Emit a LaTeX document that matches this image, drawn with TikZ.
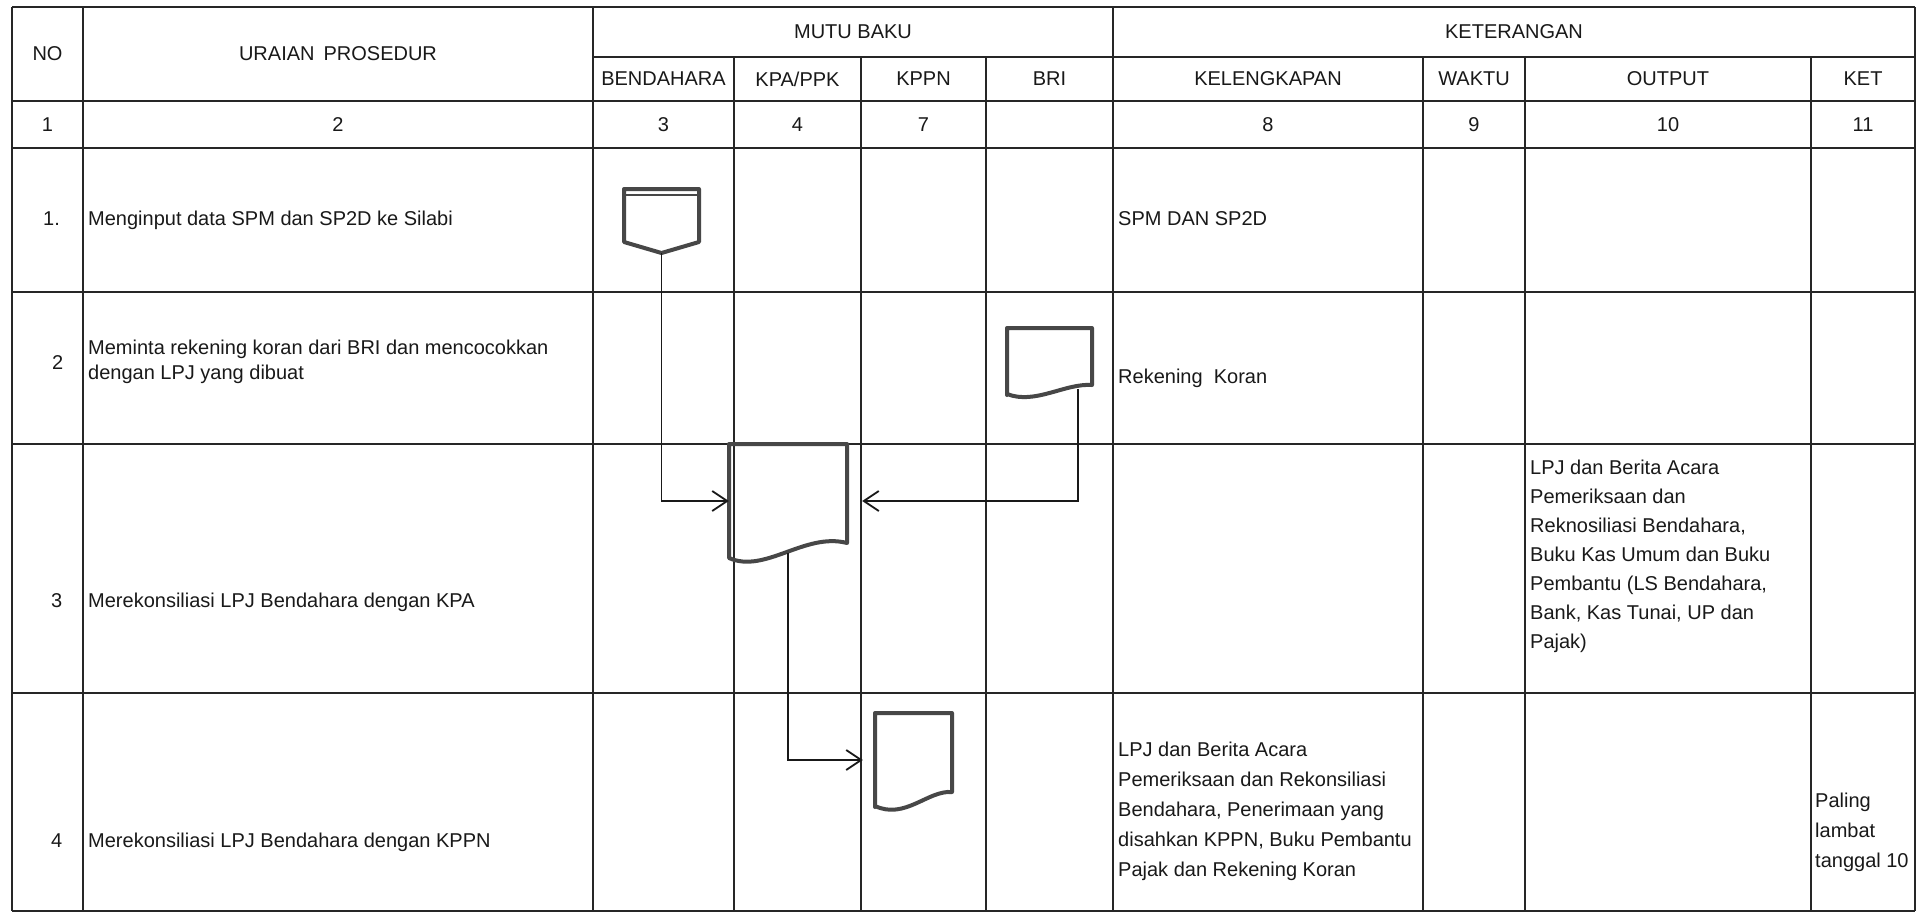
\documentclass[tikz,border=0pt]{standalone}
\usepackage{fontspec}
\setmainfont{Liberation Sans}
\usetikzlibrary{arrows.meta,calc}
\tikzset{
  gridline/.style={line width=2.2pt, draw=black!85},
  hdr/.style={font=\fontsize{20}{24}\selectfont, inner sep=0pt, text=black!90},
  cell/.style={font=\fontsize{20}{30}\selectfont, inner sep=0pt, anchor=base west, align=left, text=black!90},
  symbox/.style={inner sep=0pt, draw=none},
  docline/.style={line width=4pt, draw=black!72, line join=round},
  conn/.style={line width=1.8pt, draw=black!90},
  arr/.style={conn, -{Straight Barb[length=15pt,width=20pt,line width=1.8pt]}},
}
\begin{document}
\begin{tikzpicture}[x=1pt,y=-1pt]
\useasboundingbox (0,0) rectangle (1922,914);
\fill[white] (0,0) rectangle (1922,914);
% ---- grid ----
\foreach \y in {7,101,148,292,444,693,911} \draw[gridline] (12,\y) -- (1915,\y);
\draw[gridline] (593,57) -- (1915,57);
\foreach \x in {12,83,593,1113,1915} \draw[gridline] (\x,7) -- (\x,911);
\foreach \x in {734,861,986,1423,1525,1811} \draw[gridline] (\x,57) -- (\x,911);
% ---- header ----
\node[hdr] (hno) at (47.5,54) {NO};
\node[hdr] (hur) at (338,54) {URAIAN\hspace{0.45em}PROSEDUR};
\node[hdr] (hmb) at (853,32) {MUTU BAKU};
\node[hdr] (hket) at (1514,32) {KETERANGAN};
\node[hdr] (hbend) at (663.5,79) {BENDAHARA};
\node[hdr] (hkpa) at (797.5,79) {KPA/PPK};
\node[hdr] (hkppn) at (923.5,79) {KPPN};
\node[hdr] (hbri) at (1049.5,79) {BRI};
\node[hdr] (hkel) at (1268,79) {KELENGKAPAN};
\node[hdr] (hwak) at (1474,79) {WAKTU};
\node[hdr] (hout) at (1668,79) {OUTPUT};
\node[hdr] (hk) at (1863,79) {KET};
% ---- column numbers ----
\node[hdr] (c1) at (47.5,125) {1};
\node[hdr] (c2) at (338,125) {2};
\node[hdr] (c3) at (663.5,125) {3};
\node[hdr] (c4) at (797.5,125) {4};
\node[hdr] (c7) at (923.5,125) {7};
\node[hdr] (c8) at (1268,125) {8};
\node[hdr] (c9) at (1474,125) {9};
\node[hdr] (c10) at (1668,125) {10};
\node[hdr] (c11) at (1863,125) {11};
% ---- row numbers ----
\node[cell] (n1) at (43,225) {1.};
\node[cell] (n2) at (52,369) {2};
\node[cell] (n3) at (51,607) {3};
\node[cell] (n4) at (51,847) {4};
% ---- uraian ----
\node[cell] (u1) at (88,225) {Menginput data SPM dan SP2D ke Silabi};
\node[cell, anchor=north west, font=\fontsize{20}{25}\selectfont] (u2) at (88,340) {Meminta rekening koran dari BRI dan mencocokkan\\dengan LPJ yang dibuat};
\node[cell] (u3) at (88,607) {Merekonsiliasi LPJ Bendahara dengan KPA};
\node[cell] (u4) at (88,847) {Merekonsiliasi LPJ Bendahara dengan KPPN};
% ---- kelengkapan ----
\node[cell] (k1) at (1118,225) {SPM DAN SP2D};
\node[cell] (k2) at (1118,383) {Rekening\ \ Koran};
\node[cell, anchor=north west] (k4) at (1118,742) {LPJ dan Berita Acara\\Pemeriksaan dan Rekonsiliasi\\Bendahara, Penerimaan yang\\disahkan KPPN, Buku Pembantu\\Pajak dan Rekening Koran};
% ---- output ----
\node[cell, anchor=north west, font=\fontsize{20}{29}\selectfont] (o3) at (1530,460) {LPJ dan Berita Acara\\Pemeriksaan dan\\Reknosiliasi Bendahara,\\Buku Kas Umum dan Buku\\Pembantu (LS Bendahara,\\Bank, Kas Tunai, UP dan\\Pajak)};
% ---- ket ----
\node[cell, anchor=north west] (t4) at (1815,793) {Paling\\lambat\\tanggal 10};
% ---- symbols ----
\node[symbox, minimum width=75pt, minimum height=64pt] (spm) at (661.5,221) {};
\draw[docline] (624,189) -- (699,189) -- (699,242) -- (661.5,253) -- (624,242) -- cycle;
\draw[line width=2pt, black!72] (626,195) -- (697,195);
\node[symbox, minimum width=85pt, minimum height=67pt] (bri) at (1049.5,361.5) {};
\draw[docline] (1007,395) -- (1007,328) -- (1092,328) -- (1092,385) .. controls (1065,383) and (1035,405) .. (1007,394) -- cycle;
\node[symbox, minimum width=118pt, minimum height=114pt] (kpa) at (788,501) {};
\draw[docline] (729,558) -- (729,444) -- (847,444) -- (847,543) .. controls (805,532) and (765,574) .. (729,558) -- cycle;
\node[symbox, minimum width=77pt, minimum height=94pt] (kppn) at (913.5,760) {};
\draw[docline] (875,807) -- (875,713) -- (952,713) -- (952,792) .. controls (928,790) and (905,820) .. (875,806) -- cycle;
% ---- connectors ----
\coordinate (brib) at (1078,389);
\coordinate (kpab) at (788,553);
\draw[arr] (spm.south) |- (kpa.west);
\draw[arr, shorten >=15pt] (brib) |- (kpa.east);
\draw[arr, shorten >=12pt] (kpab) |- (kppn.west);
\end{tikzpicture}
\end{document}
